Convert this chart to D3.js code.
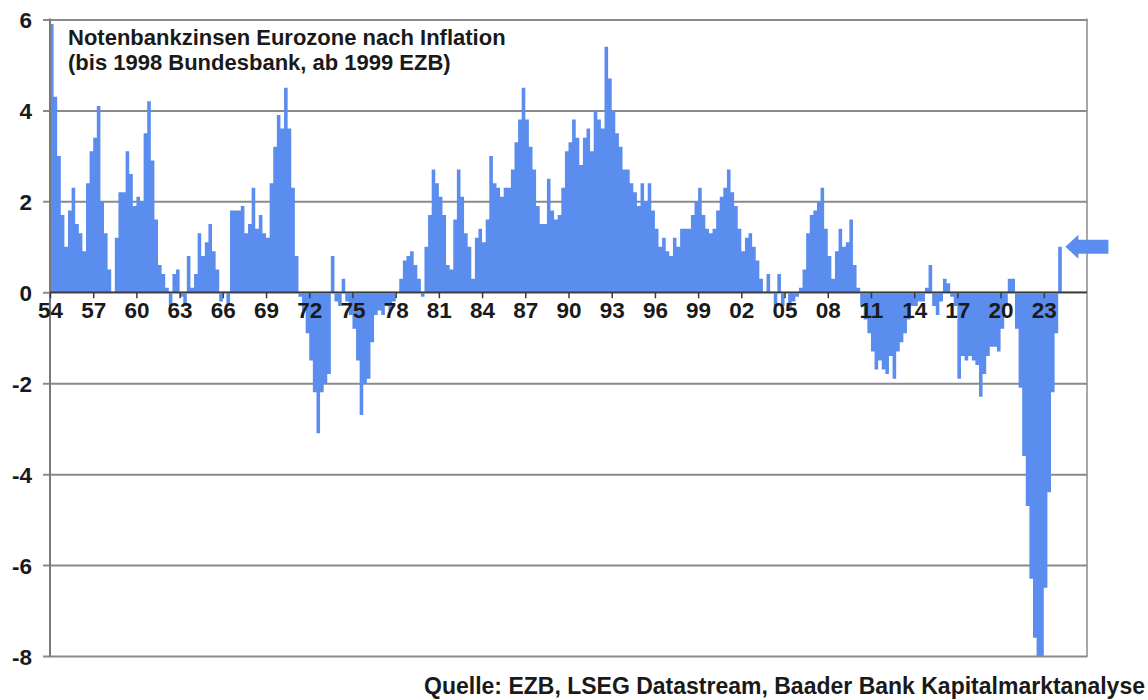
<!DOCTYPE html>
<html>
<head>
<meta charset="utf-8">
<script src="https://cdn.jsdelivr.net/npm/d3@7"></script>
<style>
  html, body { margin: 0; padding: 0; background: #ffffff; }
  svg { display: block; }
  text { font-family: "Liberation Sans", Arial, sans-serif; font-weight: bold; fill: #1a1a1a; }
</style>
</head>
<body>
<svg id="chart" width="1148" height="700"></svg>
<script>
// ---- Data: real central bank rate (policy rate minus inflation), quarterly, starting 1954 Q1 ----
const startYear = 1954;
const periodsPerYear = 4;
const realRate = [
  // 1954 - 1963
  5.9, 4.3, 3.0, 1.7,
  1.0, 1.8, 2.3, 1.5,
  1.3, 0.9, 2.4, 3.1,
  3.4, 4.1, 2.0, 1.3,
  0.5, 0.0, 1.2, 2.2,
  2.2, 3.1, 2.6, 1.9,
  2.1, 2.0, 3.5, 4.2,
  2.9, 1.6, 0.6, 0.4,
  0.1, -0.3, 0.4, 0.5,
  -0.1, -0.3, 0.8, 0.1,
  // 1964 - 1973
  0.4, 1.3, 0.8, 1.1,
  1.5, 0.9, 0.5, -0.2,
  0.0, -0.3, 1.8, 1.8,
  1.8, 1.9, 1.3, 1.5,
  2.3, 1.4, 1.7, 1.3,
  1.2, 2.4, 3.2, 3.9,
  3.6, 4.5, 3.6, 2.3,
  0.8, -0.1, -0.4, -0.9,
  -1.5, -2.2, -3.1, -2.2,
  -2.0, -1.8, 0.8, -0.2,
  // 1974 - 1983
  -0.3, 0.3, -0.2, -0.5,
  -0.8, -1.5, -2.7, -2.0,
  -1.9, -1.1, -0.5, -0.4,
  -0.5, -0.3, -0.4, -0.2,
  0.0, 0.3, 0.7, 0.8,
  0.9, 0.6, 0.3, -0.1,
  1.0, 1.7, 2.7, 2.4,
  2.1, 1.7, 0.6, 0.5,
  1.6, 2.7, 2.1, 1.3,
  1.0, 0.3, 1.2, 1.4,
  // 1984 - 1993
  1.1, 1.6, 3.0, 2.4,
  2.3, 2.1, 2.3, 2.3,
  2.7, 3.3, 3.8, 4.5,
  3.8, 3.2, 2.7, 1.9,
  1.5, 1.5, 2.5, 1.8,
  1.6, 1.7, 2.3, 3.1,
  3.3, 3.8, 3.4, 2.8,
  3.4, 3.6, 3.1, 4.0,
  3.8, 3.6, 5.4, 4.7,
  4.0, 3.5, 3.2, 2.7,
  // 1994 - 2003
  2.7, 2.4, 2.2, 1.9,
  2.4, 2.0, 2.4, 1.8,
  1.4, 1.0, 1.2, 0.9,
  0.8, 1.2, 1.0, 1.4,
  1.4, 1.4, 1.7, 2.0,
  2.3, 1.7, 1.4, 1.3,
  1.4, 1.8, 2.1, 2.3,
  2.7, 2.2, 1.9, 1.4,
  0.9, 1.2, 1.3, 1.0,
  0.7, 0.3, 0.0, 0.4,
  // 2004 - 2013
  0.0, -0.3, 0.4, -0.3,
  0.0, -0.4, -0.2, -0.1,
  0.1, 0.5, 1.3, 1.7,
  1.8, 2.0, 2.3, 1.4,
  0.8, 0.3, 0.9, 1.4,
  1.0, 1.1, 1.6, 0.6,
  0.1, -0.3, -0.6, -0.9,
  -1.3, -1.7, -1.5, -1.7,
  -1.8, -1.4, -1.9, -1.3,
  -1.1, -0.9, -0.6, -0.3,
  // 2014 - 2023
  -0.3, -0.2, -0.2, 0.1,
  0.6, -0.3, -0.5, -0.2,
  0.3, 0.2, -0.1, -0.3,
  -1.9, -1.4, -1.5, -1.4,
  -1.5, -1.6, -2.3, -1.8,
  -1.4, -1.2, -1.2, -1.3,
  -0.8, -0.3, 0.3, 0.3,
  -0.8, -2.1, -3.6, -4.7,
  -6.3, -7.6, -9.0, -9.0,
  -6.5, -4.4, -2.2, -0.9,
  // 2024
  1.0
];

const yTickValues = [-8, -6, -4, -2, 0, 2, 4, 6];
const xTickYears  = [1954, 1957, 1960, 1963, 1966, 1969, 1972, 1975, 1978, 1981, 1984, 1987, 1990, 1993, 1996, 1999, 2002, 2005, 2008, 2011, 2014, 2017, 2020, 2023];
const xTickLabels = ["54", "57", "60", "63", "66", "69", "72", "75", "78", "81", "84", "87", "90", "93", "96", "99", "02", "05", "08", "11", "14", "17", "20", "23"];
const titleLines  = ["Notenbankzinsen Eurozone nach Inflation", "(bis 1998 Bundesbank, ab 1999 EZB)"];
const sourceText  = "Quelle: EZB, LSEG Datastream, Baader Bank Kapitalmarktanalyse";
const xDomain = [1954, 2026];
const yDomain = [-8, 6];

// ---- Layout ----
const svg = d3.select("#chart");
const W = 1148, H = 700;
const plot = { left: 50, right: 1087, top: 19.5, bottom: 656 };
const barColor = "#5b8def";
const gridColor = "#8a8a8a";
const fontSize = 22.5;

const x = d3.scaleLinear().domain(xDomain).range([plot.left, plot.right]);
const y = d3.scaleLinear().domain(yDomain).range([plot.bottom, plot.top]);

svg.append("rect").attr("width", W).attr("height", H).attr("fill", "#fff");

svg.append("defs").append("clipPath").attr("id", "plotClip")
  .append("rect")
  .attr("x", plot.left).attr("y", plot.top)
  .attr("width", plot.right - plot.left).attr("height", plot.bottom - plot.top);

// ---- Gridlines + y labels ----
const yAxis = d3.axisLeft(y)
  .tickValues(yTickValues)
  .tickSize(-(plot.right - plot.left) - 7)
  .tickSizeOuter(0)
  .tickPadding(11)
  .tickFormat(d => String(d));

const yG = svg.append("g")
  .attr("transform", `translate(${plot.right},0)`)
  .call(yAxis);
yG.select(".domain").remove();
yG.selectAll(".tick line")
  .attr("x1", 0)
  .attr("x2", -(plot.right - plot.left) - 7)
  .attr("stroke", gridColor)
  .attr("stroke-width", 2);
yG.selectAll(".tick text")
  .attr("x", -(plot.right - plot.left) - 18)
  .attr("dy", "0.36em")
  .attr("text-anchor", "end")
  .style("font-size", fontSize + "px")
  .style("font-family", "'Liberation Sans', Arial, sans-serif")
  .style("font-weight", "bold")
  .attr("fill", "#1a1a1a");

// ---- Area (step, column-like) ----
const points = realRate.map((v, i) => ({ t: startYear + i / periodsPerYear, v }));
points.push({ t: startYear + realRate.length / periodsPerYear, v: realRate[realRate.length - 1] });

const area = d3.area()
  .curve(d3.curveStepAfter)
  .x(d => x(d.t))
  .y0(y(0))
  .y1(d => y(d.v));

svg.append("path")
  .datum(points)
  .attr("clip-path", "url(#plotClip)")
  .attr("fill", barColor)
  .attr("d", area);

// ---- Plot frame: left axis and right border ----
svg.append("line")
  .attr("x1", plot.left).attr("x2", plot.left)
  .attr("y1", plot.top - 1).attr("y2", plot.bottom + 1)
  .attr("stroke", "#7a7a7a").attr("stroke-width", 2);
svg.append("line")
  .attr("x1", plot.right).attr("x2", plot.right)
  .attr("y1", plot.top - 1).attr("y2", plot.bottom + 1)
  .attr("stroke", "#8a8a8a").attr("stroke-width", 1.5);

// ---- Zero axis with ticks and labels ----
const xAxis = d3.axisBottom(x)
  .tickValues(xTickYears)
  .tickSize(6)
  .tickSizeOuter(0)
  .tickFormat((d, i) => xTickLabels[i]);

const xG = svg.append("g")
  .attr("transform", `translate(0,${y(0)})`)
  .call(xAxis);
xG.select(".domain")
  .attr("stroke", "#3a3a3a")
  .attr("stroke-width", 1.6)
  .attr("d", `M${plot.left},0H${plot.right}`);
xG.selectAll(".tick line").attr("stroke", "#3a3a3a").attr("stroke-width", 1.5);
xG.selectAll(".tick text")
  .attr("y", 26)
  .attr("dy", 0)
  .style("font-size", fontSize + "px")
  .style("font-family", "'Liberation Sans', Arial, sans-serif")
  .style("font-weight", "bold")
  .attr("fill", "#1a1a1a");

// ---- Title (two lines) ----
const titleFont = 22;
titleLines.forEach((line, i) => {
  svg.append("text")
    .attr("x", 68)
    .attr("y", 45 + i * 25)
    .style("font-size", titleFont + "px")
    .text(line);
});

// ---- Source ----
svg.append("text")
  .attr("x", 1145).attr("y", 694)
  .attr("text-anchor", "end")
  .style("font-size", "23px")
  .text(sourceText);

// ---- Arrow marking latest value ----
const lastVal = realRate[realRate.length - 1];
const tipX = x(2024.5), tipY = y(lastVal);
const arrowShape = [[0, 0], [13, -12], [13, -7], [43, -7], [43, 7], [13, 7], [13, 12]];
svg.append("path")
  .attr("d", d3.line()(arrowShape.map(([dx, dy]) => [tipX + dx, tipY + dy])) + "Z")
  .attr("fill", barColor);
</script>
</body>
</html>
